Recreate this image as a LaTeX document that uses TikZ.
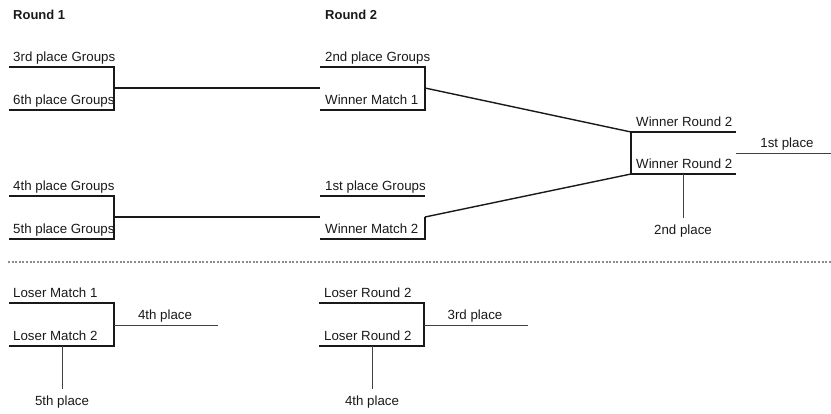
\documentclass[tikz,border=0pt]{standalone}
\usepackage{fontspec}
\setmainfont{Liberation Sans}
\begin{document}
\begin{tikzpicture}[x=1pt,y=-1pt,
  lbl/.style={anchor=base west, inner sep=0pt, text=black!90, font=\fontsize{13.3}{15}\selectfont},
  clbl/.style={lbl, anchor=base},
  head/.style={lbl, font=\fontsize{13}{15}\selectfont\bfseries},
  thick line/.style={line width=2pt, black!90},
  thin line/.style={line width=1pt, black!75},
  diag line/.style={line width=1.4pt, black!90},
  sep line/.style={line width=1.6pt, black!45, dash pattern=on 2pt off 1.6pt}]
\useasboundingbox (0,0) rectangle (831,413);
% headings
\node[head] (r1) at (13,19.5) {Round 1};
\node[head] (r2) at (325,19.5) {Round 2};
% ---------- Round 1 upper
\coordinate (a1) at (9,67); \coordinate (a2) at (114,67);
\coordinate (a3) at (114,110); \coordinate (a4) at (9,110);
\coordinate (am) at (114,88);
\node[lbl] (t3g) at (13,61.5) {3rd place Groups};
\node[lbl] (t6g) at (13,104.5) {6th place Groups};
\draw[thick line] (a1) -- (a2) -- (a3) -- (a4);
% ---------- Round 2 upper
\coordinate (b1) at (320,67); \coordinate (b2) at (425,67);
\coordinate (b3) at (425,110); \coordinate (b4) at (320,110);
\coordinate (bin) at (320,88); \coordinate (bm) at (425,88);
\node[lbl] (t2g) at (325,61.5) {2nd place Groups};
\node[lbl] (tw1) at (325,104.5) {Winner Match 1};
\draw[thick line] (b1) -- (b2) -- (b3) -- (b4);
\draw[thick line] (am) -- (bin);
% ---------- Round 1 lower
\coordinate (c1) at (9,196); \coordinate (c2) at (114,196);
\coordinate (c3) at (114,239); \coordinate (c4) at (9,239);
\coordinate (cm) at (114,217);
\node[lbl] (t4g) at (13,190.5) {4th place Groups};
\node[lbl] (t5g) at (13,233.5) {5th place Groups};
\draw[thick line] (c1) -- (c2) -- (c3) -- (c4);
% ---------- Round 2 lower
\coordinate (d1) at (320,196); \coordinate (d2) at (425,196);
\coordinate (d3) at (425,239); \coordinate (d4) at (320,239);
\coordinate (din) at (320,217); \coordinate (dm) at (425,217);
\node[lbl] (t1g) at (325,190.5) {1st place Groups};
\node[lbl] (tw2) at (325,233.5) {Winner Match 2};
\draw[thick line] (d1) -- (d2);
\draw[thick line] (dm) -- (d3) -- (d4);
\draw[thick line] (cm) -- (din);
% ---------- Final
\coordinate (f1) at (631,132); \coordinate (f2) at (736,132);
\coordinate (f3) at (631,174); \coordinate (f4) at (736,174);
\node[lbl] (twr1) at (636,126.5) {Winner Round 2};
\node[lbl] (twr2) at (636,168.5) {Winner Round 2};
\draw[diag line] (bm) -- (f1);
\draw[diag line] (dm) -- (f3);
\draw[thick line] (f2) -- (f1) -- (f3) -- (f4);
\coordinate (p1a) at (736,153); \coordinate (p1b) at (831,153);
\draw[thin line] (p1a) -- (p1b);
\node[clbl] (t1p) at (787,147.5) {1st place};
\coordinate (p2a) at (683,174); \coordinate (p2b) at (683,218);
\draw[thin line] (p2a) -- (p2b);
\node[clbl] (t2p) at (683,234.5) {2nd place};
% ---------- separator
\coordinate (s1) at (8,262); \coordinate (s2) at (831,262);
\draw[sep line] (s1) -- (s2);
% ---------- Losers left
\coordinate (g1) at (9,303); \coordinate (g2) at (114,303);
\coordinate (g3) at (114,346); \coordinate (g4) at (9,346);
\node[lbl] (tl1) at (13,297.5) {Loser Match 1};
\node[lbl] (tl2) at (13,340.5) {Loser Match 2};
\draw[thick line] (g1) -- (g2) -- (g3) -- (g4);
\coordinate (q4a) at (114,325); \coordinate (q4b) at (218,325);
\draw[thin line] (q4a) -- (q4b);
\node[clbl] (t4p) at (165,319.5) {4th place};
\coordinate (q5a) at (62,346); \coordinate (q5b) at (62,389);
\draw[thin line] (q5a) -- (q5b);
\node[clbl] (t5p) at (62,405.5) {5th place};
% ---------- Losers right
\coordinate (h1) at (319,303); \coordinate (h2) at (424,303);
\coordinate (h3) at (424,346); \coordinate (h4) at (319,346);
\node[lbl] (tlr1) at (324,297.5) {Loser Round 2};
\node[lbl] (tlr2) at (324,340.5) {Loser Round 2};
\draw[thick line] (h1) -- (h2) -- (h3) -- (h4);
\coordinate (q3a) at (424,325); \coordinate (q3b) at (528,325);
\draw[thin line] (q3a) -- (q3b);
\node[clbl] (t3p) at (475,319.5) {3rd place};
\coordinate (q4c) at (372,346); \coordinate (q4d) at (372,389);
\draw[thin line] (q4c) -- (q4d);
\node[clbl] (t4pr) at (372,405.5) {4th place};
\end{tikzpicture}
\end{document}
